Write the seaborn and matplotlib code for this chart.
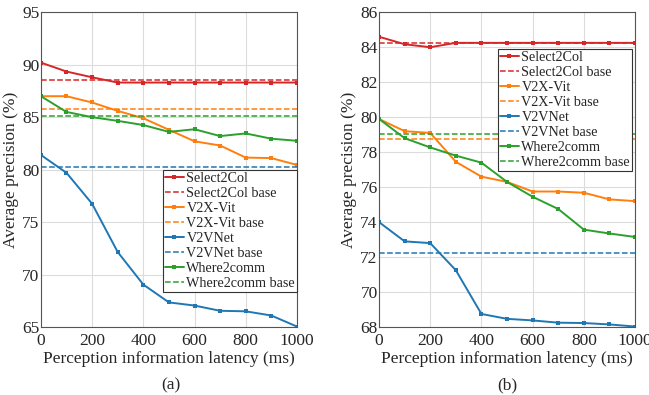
import seaborn as sns
import matplotlib.pyplot as plt
import pandas as pd

latency = [0, 100, 200, 300, 400, 500, 600, 700, 800, 900, 1000]
methods = ["Select2Col", "V2X-Vit", "V2VNet", "Where2comm"]
colors = ["#d62728", "#ff7f0e", "#1f77b4", "#2ca02c"]

# (a)
a_select2col = [90.2, 89.35, 88.8, 88.3, 88.3, 88.3, 88.3, 88.3, 88.3, 88.3, 88.3]
a_v2xvit = [87.0, 87.0, 86.4, 85.6, 84.9, 83.8, 82.7, 82.3, 81.15, 81.1, 80.45]
a_v2vnet = [81.4, 79.7, 76.75, 72.15, 69.05, 67.35, 67.05, 66.55, 66.5, 66.1, 65.05]
a_where2comm = [87.0, 85.5, 85.0, 84.65, 84.25, 83.6, 83.85, 83.2, 83.45, 82.95, 82.75]
a_base = [88.5, 85.8, 80.3, 85.15]

# (b)
b_select2col = [84.6, 84.17, 84.0, 84.25, 84.25, 84.25, 84.25, 84.25, 84.25, 84.25, 84.25]
b_v2xvit = [79.9, 79.2, 79.1, 77.45, 76.6, 76.3, 75.75, 75.75, 75.68, 75.3, 75.2]
b_v2vnet = [74.0, 72.9, 72.8, 71.25, 68.75, 68.47, 68.38, 68.25, 68.23, 68.15, 68.03]
b_where2comm = [79.9, 78.8, 78.27, 77.8, 77.4, 76.3, 75.45, 74.75, 73.57, 73.35, 73.15]
b_base = [84.25, 78.75, 72.25, 79.05]

sns.set_style("whitegrid")
plt.rcParams["font.family"] = ["Liberation Serif", "DejaVu Serif"]

fig = plt.figure(figsize=(6.49, 3.95), dpi=100)
ax1 = fig.add_axes([0.063, 0.172, 0.3945, 0.797])
ax2 = fig.add_axes([0.584, 0.172, 0.3945, 0.797])


def draw(ax, series, base, ylim, yticks, leg_anchor):
    handles = []
    for name, vals, b, c in zip(methods, series, base, colors):
        df = pd.DataFrame({"latency": latency, "ap": vals})
        sns.lineplot(data=df, x="latency", y="ap", ax=ax, color=c, lw=1.4,
                     marker="s", markersize=3, markeredgewidth=0)
        h1 = ax.lines[-1]
        h1.set_label(name)
        h2 = ax.axhline(b, color=c, ls="--", lw=1.1, label=name + " base")
        handles += [h1, h2]
    ax.set_xlim(0, 1000)
    ax.set_xticks([0, 200, 400, 600, 800, 1000])
    ax.set_ylim(*ylim)
    ax.set_yticks(yticks)
    ax.set_xlabel("Perception information latency (ms)", fontsize=12.5, labelpad=2)
    ax.set_ylabel("Average precision (%)", fontsize=12.5, labelpad=2)
    ax.tick_params(labelsize=12.5, length=0)
    ax.tick_params(axis="x", pad=4)
    ax.tick_params(axis="y", pad=1)
    ax.grid(True, color="#dcdcdc", lw=0.8)
    for s in ax.spines.values():
        s.set_color("#555555")
        s.set_linewidth(0.8)
    leg = ax.legend(handles=handles, loc="upper left", bbox_to_anchor=leg_anchor,
                    fontsize=10.2, frameon=True, fancybox=False, framealpha=1,
                    edgecolor="#333333", borderpad=0.15, labelspacing=0.14,
                    handlelength=1.3, handletextpad=0.2, borderaxespad=0)
    leg.get_frame().set_linewidth(0.8)


draw(ax1, [a_select2col, a_v2xvit, a_v2vnet, a_where2comm], a_base,
     (65, 95), [65, 70, 75, 80, 85, 90, 95], (0.477, 0.498))
draw(ax2, [b_select2col, b_v2xvit, b_v2vnet, b_where2comm], b_base,
     (68, 86), [68, 70, 72, 74, 76, 78, 80, 82, 84, 86], (0.465, 0.883))

fig.text(0.264, 0.015, "(a)", ha="center", fontsize=12.5)
fig.text(0.781, 0.015, "(b)", ha="center", fontsize=12.5)

fig.savefig("out.png", dpi=100)
